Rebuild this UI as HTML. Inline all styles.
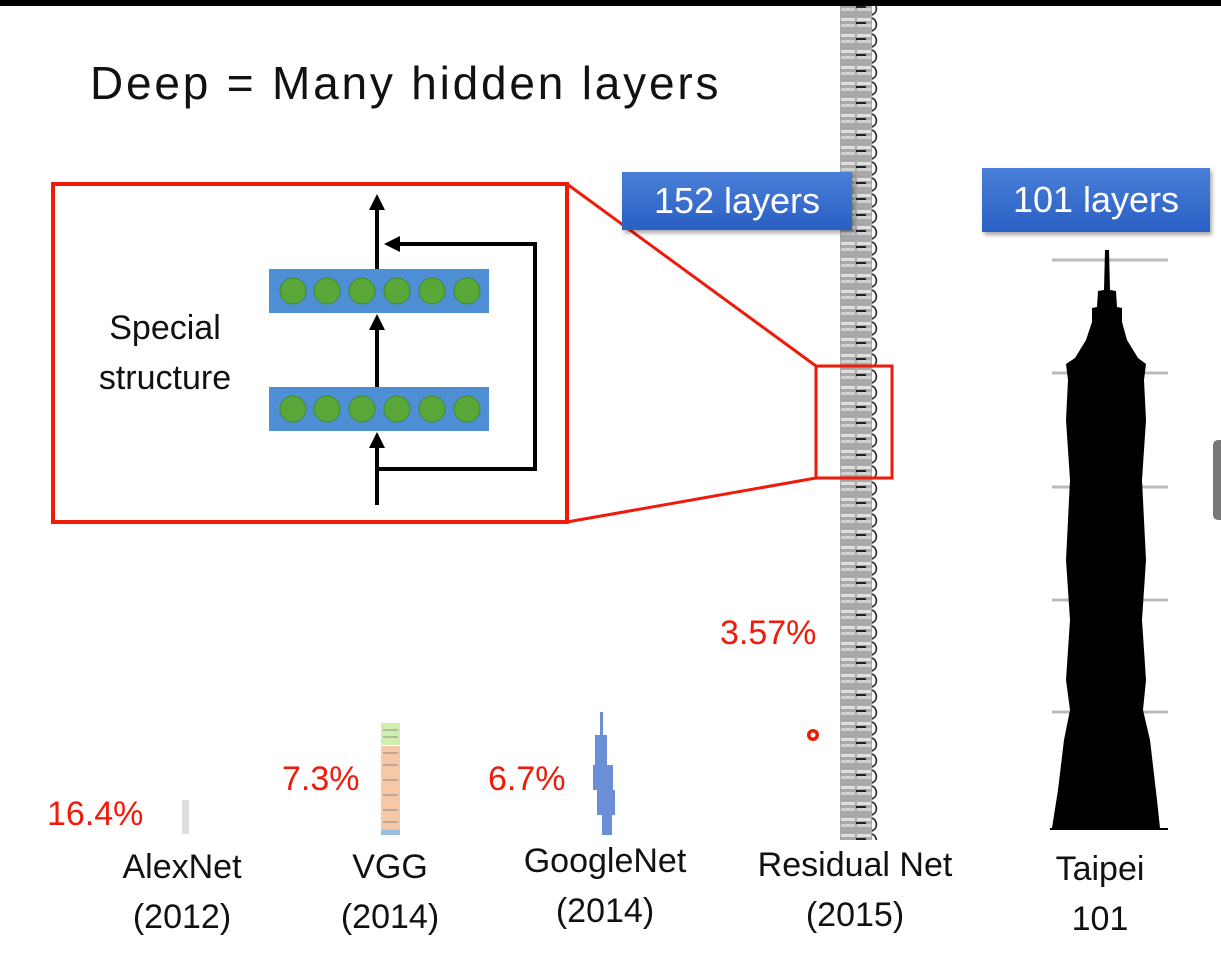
<!DOCTYPE html>
<html><head><meta charset="utf-8"><style>
body{margin:0;width:1221px;height:964px;background:#fff;position:relative;overflow:hidden;font-family:"Liberation Sans",sans-serif}
.t{position:absolute;white-space:nowrap;color:#111}
.r{position:absolute;white-space:nowrap;color:#f01a0a;font-size:34px}
.lab{position:absolute;text-align:center;font-size:34px;line-height:50px;color:#111}
.bl{position:absolute;background:linear-gradient(#4a7fd8,#2a5fc4);color:#fff;font-size:36px;text-align:center;box-shadow:2px 3px 4px rgba(0,0,0,.35)}
</style></head><body>
<div style="position:absolute;left:0;top:0;width:1221px;height:6px;background:#000"></div>
<div class="t" style="left:90px;top:56px;font-size:46px;letter-spacing:2.8px">Deep = Many hidden layers</div>

<svg width="1221" height="964" style="position:absolute;left:0;top:0">
<defs>
<pattern id="rp" x="838" y="0" width="44" height="16" patternUnits="userSpaceOnUse">
<rect x="2" y="0" width="32" height="16" fill="#a8a8a8"/>
<rect x="3" y="2" width="14" height="3" fill="#e0e0e0"/>
<rect x="19" y="2" width="14" height="3" fill="#e0e0e0"/>
<rect x="3" y="8" width="14" height="3" fill="#d0d0d0"/>
<rect x="19" y="8" width="14" height="3" fill="#d0d0d0"/>
<rect x="18" y="6" width="10" height="2" fill="#222"/>
<path d="M34 2 A7 7 0 0 1 34 15" fill="none" stroke="#333" stroke-width="1.8"/>
</pattern>
</defs>
<rect x="838" y="6" width="44" height="834" fill="url(#rp)"/>
<rect x="53" y="184" width="514" height="338" fill="none" stroke="#f01a0a" stroke-width="4"/>
<line x1="567" y1="184" x2="816" y2="366" stroke="#f01a0a" stroke-width="3"/>
<line x1="567" y1="522" x2="816" y2="478" stroke="#f01a0a" stroke-width="3"/>
<rect x="816" y="366" width="76" height="112" fill="none" stroke="#f01a0a" stroke-width="3"/>
<rect x="269" y="269" width="220" height="44" fill="#4f8fd6"/>
<rect x="269" y="387" width="220" height="44" fill="#4f8fd6"/>
<g fill="#5aa83a" stroke="#3f8a2a" stroke-width="1">
<circle cx="293" cy="291" r="13"/><circle cx="327" cy="291" r="13"/><circle cx="362" cy="291" r="13"/><circle cx="397" cy="291" r="13"/><circle cx="432" cy="291" r="13"/><circle cx="467" cy="291" r="13"/>
<circle cx="293" cy="409" r="13"/><circle cx="327" cy="409" r="13"/><circle cx="362" cy="409" r="13"/><circle cx="397" cy="409" r="13"/><circle cx="432" cy="409" r="13"/><circle cx="467" cy="409" r="13"/>
</g>
<g stroke="#000" stroke-width="4" fill="none">
<line x1="377" y1="505" x2="377" y2="445"/>
<line x1="377" y1="387" x2="377" y2="327"/>
<line x1="377" y1="269" x2="377" y2="208"/>
<polyline points="377,469 535,469 535,244 396,244"/>
</g>
<g fill="#000">
<polygon points="377,432 369,448 385,448"/>
<polygon points="377,314 369,330 385,330"/>
<polygon points="377,194 369,210 385,210"/>
<polygon points="384,244 400,236 400,252"/>
</g>
<g stroke="#bbb" stroke-width="3">
<line x1="1052" y1="260" x2="1168" y2="260"/>
<line x1="1052" y1="373" x2="1168" y2="373"/>
<line x1="1052" y1="487" x2="1168" y2="487"/>
<line x1="1052" y1="600" x2="1168" y2="600"/>
<line x1="1052" y1="712" x2="1168" y2="712"/>
</g>
<polygon fill="#000" points="1105,250 1109,250 1110,290 1116,291 1117,307 1122,308 1122,322 1127,340 1138,358 1146,364 1144,380 1146,420 1142,480 1146,560 1142,620 1146,680 1143,710 1150,740 1157,800 1160,828 1052,828 1058,790 1064,740 1070,710 1066,680 1070,620 1066,560 1070,480 1066,420 1068,380 1066,364 1075,358 1086,340 1092,322 1092,308 1097,307 1098,291 1104,290"/>
<line x1="1050" y1="829" x2="1168" y2="829" stroke="#000" stroke-width="2"/>
<rect x="381" y="723" width="19" height="22" fill="#cfeeb0"/>
<rect x="381" y="746" width="19" height="84" fill="#f5c8a8"/>
<rect x="381" y="830" width="19" height="5" fill="#9bbde0"/>
<g stroke="#777" stroke-width="0.8"><line x1="383" y1="730" x2="398" y2="730"/><line x1="383" y1="737" x2="398" y2="737"/><line x1="383" y1="753" x2="398" y2="753"/><line x1="383" y1="765" x2="398" y2="765"/><line x1="383" y1="780" x2="398" y2="780"/><line x1="383" y1="795" x2="398" y2="795"/><line x1="383" y1="810" x2="398" y2="810"/><line x1="383" y1="822" x2="398" y2="822"/></g>
<rect x="182" y="800" width="7" height="34" fill="#ddd"/>
<g fill="#6a8fd6">
<rect x="600" y="712" width="3" height="30"/><rect x="595" y="735" width="12" height="30"/><rect x="593" y="765" width="20" height="25"/><rect x="597" y="790" width="18" height="25"/><rect x="602" y="815" width="10" height="20"/>
</g>
<circle cx="813" cy="735" r="6" fill="#f01a0a"/><circle cx="813" cy="735" r="2.5" fill="#fff"/>
</svg>

<div class="t" style="left:90px;top:303px;font-size:34px;line-height:50px;text-align:center;width:150px">Special<br>structure</div>
<div class="bl" style="left:622px;top:172px;width:230px;height:58px;line-height:58px">152 layers</div>
<div class="bl" style="left:982px;top:168px;width:228px;height:64px;line-height:64px">101 layers</div>

<div class="r" style="left:47px;top:795px">16.4%</div>
<div class="r" style="left:282px;top:760px">7.3%</div>
<div class="r" style="left:488px;top:760px">6.7%</div>
<div class="r" style="left:720px;top:614px">3.57%</div>

<div class="lab" style="left:92px;top:842px;width:180px">AlexNet<br>(2012)</div>
<div class="lab" style="left:300px;top:842px;width:180px">VGG<br>(2014)</div>
<div class="lab" style="left:490px;top:836px;width:230px">GoogleNet<br>(2014)</div>
<div class="lab" style="left:725px;top:840px;width:260px">Residual Net<br>(2015)</div>
<div class="lab" style="left:1030px;top:844px;width:140px">Taipei<br>101</div>
<div style="position:absolute;left:1213px;top:440px;width:12px;height:80px;background:#777;border-radius:5px"></div>
</body></html>
